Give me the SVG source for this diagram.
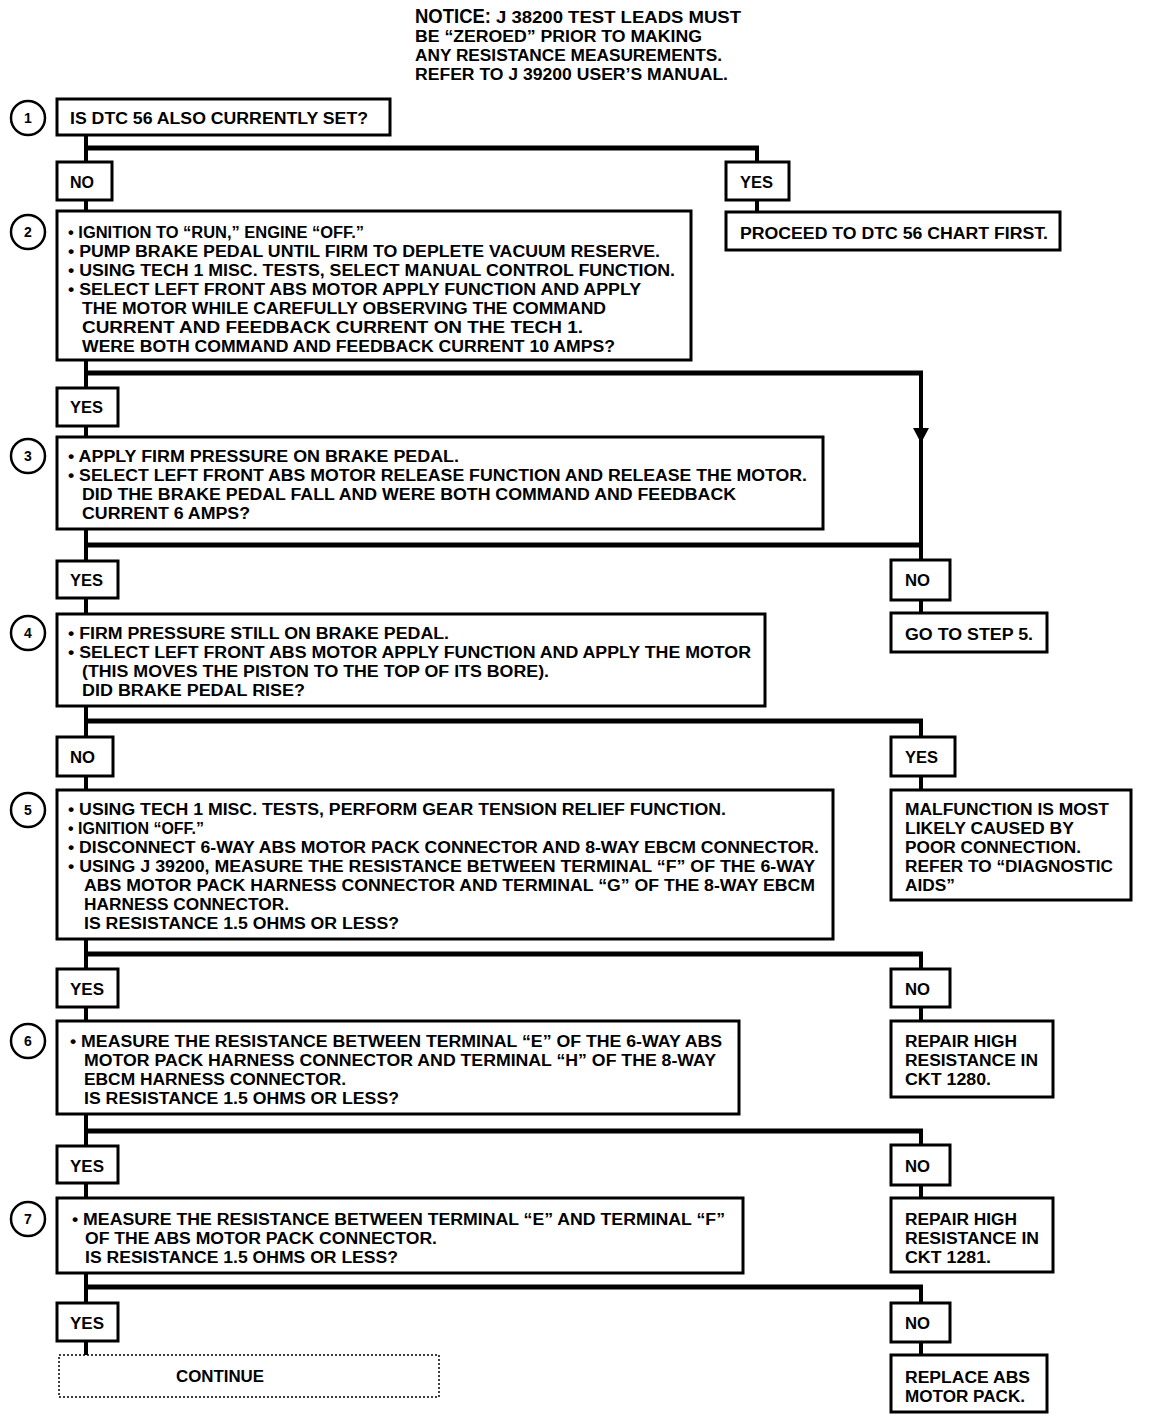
<svg xmlns="http://www.w3.org/2000/svg" width="1152" height="1420" viewBox="0 0 1152 1420">
<defs>
<style>
.t{font-family:"Liberation Sans",Arial,sans-serif;font-weight:bold;font-size:16px;fill:#000}
.n{font-family:"Liberation Sans",Arial,sans-serif;font-weight:bold;font-size:14px;fill:#000;text-anchor:middle}
.b{fill:#fff;stroke:#000;stroke-width:3}
.c{fill:#fff;stroke:#000;stroke-width:2.5}
.l{fill:none;stroke:#000;stroke-width:4}
.h{fill:none;stroke:#000;stroke-width:5}
.d{fill:#fff;stroke:#000;stroke-width:1.5;stroke-dasharray:2 2}
</style>
<marker id="ah" viewBox="0 0 15 16" refX="15" refY="8" markerWidth="15" markerHeight="16" markerUnits="userSpaceOnUse" orient="auto">
<path d="M0,0 L15,8 L0,16 Z" fill="#000"/>
</marker>
</defs>
<rect width="1152" height="1420" fill="#fff"/>

<g id="connectors">
<path class="l" d="M86,135 V162 M86,200 V211 M757,148 V162 M757,200 V212"/>
<path class="h" d="M86,148 H759"/>
<path class="l" d="M86,360 V388 M86,426 V437"/>
<path class="h" d="M86,373 H923"/>
<path class="l" d="M921,373 V561"/>
<path d="M921,410 V443" stroke="none" fill="none" marker-end="url(#ah)"/>
<path class="l" d="M86,529 V561 M86,598 V614 M921,598 V614"/>
<path class="h" d="M86,545 H923"/>
<path class="l" d="M86,706 V737 M86,776 V790 M921,721 V737 M921,776 V790"/>
<path class="h" d="M86,721 H923"/>
<path class="l" d="M86,939 V969 M86,1007 V1021 M921,954 V969 M921,1007 V1021"/>
<path class="h" d="M86,954 H923"/>
<path class="l" d="M86,1114 V1146 M86,1183 V1198 M921,1131 V1146 M921,1183 V1198"/>
<path class="h" d="M86,1131 H923"/>
<path class="l" d="M86,1273 V1303 M86,1341 V1355 M921,1287 V1303 M921,1341 V1355"/>
<path class="h" d="M86,1287 H923"/>
</g>

<g id="notice">
<text x="415" y="23"><tspan class="t" style="font-size:21px" textLength="76" lengthAdjust="spacingAndGlyphs">NOTICE:</tspan></text>
<text class="t" x="496" y="23" textLength="245" lengthAdjust="spacingAndGlyphs">J 38200 TEST LEADS MUST</text>
<text class="t" x="415" y="42" textLength="287" lengthAdjust="spacingAndGlyphs">BE “ZEROED” PRIOR TO MAKING</text>
<text class="t" x="415" y="61" textLength="307" lengthAdjust="spacingAndGlyphs">ANY RESISTANCE MEASUREMENTS.</text>
<text class="t" x="415" y="80" textLength="313" lengthAdjust="spacingAndGlyphs">REFER TO J 39200 USER’S MANUAL.</text>
</g>

<g id="step1">
<circle class="c" cx="28" cy="118" r="17"/><text class="n" x="28" y="123">1</text>
<rect class="b" x="57" y="99" width="333" height="36"/>
<text class="t" x="70" y="124" textLength="298" lengthAdjust="spacingAndGlyphs">IS DTC 56 ALSO CURRENTLY SET?</text>
</g>
<g id="no1"><rect class="b" x="57" y="162" width="55" height="38"/><text class="t" x="70" y="188" textLength="24" lengthAdjust="spacingAndGlyphs">NO</text></g>
<g id="yes1"><rect class="b" x="726" y="162" width="63" height="38"/><text class="t" x="740" y="188" textLength="33" lengthAdjust="spacingAndGlyphs">YES</text></g>
<g id="proceed"><rect class="b" x="726" y="212" width="334" height="38"/><text class="t" x="740" y="239" textLength="308" lengthAdjust="spacingAndGlyphs">PROCEED TO DTC 56 CHART FIRST.</text></g>

<g id="step2">
<circle class="c" cx="28" cy="232" r="17"/><text class="n" x="28" y="237">2</text>
<rect class="b" x="57" y="211" width="634" height="149"/>
<text class="t" x="68" y="238" textLength="296" lengthAdjust="spacingAndGlyphs">• IGNITION TO “RUN,” ENGINE “OFF.”</text>
<text class="t" x="68" y="257" textLength="592" lengthAdjust="spacingAndGlyphs">• PUMP BRAKE PEDAL UNTIL FIRM TO DEPLETE VACUUM RESERVE.</text>
<text class="t" x="68" y="276" textLength="607" lengthAdjust="spacingAndGlyphs">• USING TECH 1 MISC. TESTS, SELECT MANUAL CONTROL FUNCTION.</text>
<text class="t" x="68" y="295" textLength="573" lengthAdjust="spacingAndGlyphs">• SELECT LEFT FRONT ABS MOTOR APPLY FUNCTION AND APPLY</text>
<text class="t" x="82" y="314" textLength="524" lengthAdjust="spacingAndGlyphs">THE MOTOR WHILE CAREFULLY OBSERVING THE COMMAND</text>
<text class="t" x="82" y="333" textLength="501" lengthAdjust="spacingAndGlyphs">CURRENT AND FEEDBACK CURRENT ON THE TECH 1.</text>
<text class="t" x="82" y="352" textLength="533" lengthAdjust="spacingAndGlyphs">WERE BOTH COMMAND AND FEEDBACK CURRENT 10 AMPS?</text>
</g>
<g id="yes2"><rect class="b" x="57" y="388" width="61" height="38"/><text class="t" x="70" y="413" textLength="33" lengthAdjust="spacingAndGlyphs">YES</text></g>

<g id="step3">
<circle class="c" cx="28" cy="456" r="17"/><text class="n" x="28" y="461">3</text>
<rect class="b" x="57" y="437" width="766" height="92"/>
<text class="t" x="68" y="462" textLength="391" lengthAdjust="spacingAndGlyphs">• APPLY FIRM PRESSURE ON BRAKE PEDAL.</text>
<text class="t" x="68" y="481" textLength="739" lengthAdjust="spacingAndGlyphs">• SELECT LEFT FRONT ABS MOTOR RELEASE FUNCTION AND RELEASE THE MOTOR.</text>
<text class="t" x="82" y="500" textLength="654" lengthAdjust="spacingAndGlyphs">DID THE BRAKE PEDAL FALL AND WERE BOTH COMMAND AND FEEDBACK</text>
<text class="t" x="82" y="519" textLength="168" lengthAdjust="spacingAndGlyphs">CURRENT 6 AMPS?</text>
</g>
<g id="yes3"><rect class="b" x="57" y="561" width="61" height="37"/><text class="t" x="70" y="586" textLength="33" lengthAdjust="spacingAndGlyphs">YES</text></g>
<g id="no3"><rect class="b" x="891" y="560" width="59" height="40"/><text class="t" x="905" y="586" textLength="25" lengthAdjust="spacingAndGlyphs">NO</text></g>
<g id="goto5"><rect class="b" x="891" y="613" width="156" height="39"/><text class="t" x="905" y="640" textLength="128" lengthAdjust="spacingAndGlyphs">GO TO STEP 5.</text></g>

<g id="step4">
<circle class="c" cx="28" cy="633" r="17"/><text class="n" x="28" y="638">4</text>
<rect class="b" x="57" y="614" width="708" height="92"/>
<text class="t" x="68" y="639" textLength="381" lengthAdjust="spacingAndGlyphs">• FIRM PRESSURE STILL ON BRAKE PEDAL.</text>
<text class="t" x="68" y="658" textLength="683" lengthAdjust="spacingAndGlyphs">• SELECT LEFT FRONT ABS MOTOR APPLY FUNCTION AND APPLY THE MOTOR</text>
<text class="t" x="82" y="677" textLength="467" lengthAdjust="spacingAndGlyphs">(THIS MOVES THE PISTON TO THE TOP OF ITS BORE).</text>
<text class="t" x="82" y="696" textLength="223" lengthAdjust="spacingAndGlyphs">DID BRAKE PEDAL RISE?</text>
</g>
<g id="no4"><rect class="b" x="57" y="737" width="56" height="39"/><text class="t" x="70" y="763" textLength="25" lengthAdjust="spacingAndGlyphs">NO</text></g>
<g id="yes4"><rect class="b" x="891" y="737" width="64" height="39"/><text class="t" x="905" y="763" textLength="33" lengthAdjust="spacingAndGlyphs">YES</text></g>
<g id="malfunction">
<rect class="b" x="891" y="790" width="240" height="110"/>
<text class="t" x="905" y="815" textLength="204" lengthAdjust="spacingAndGlyphs">MALFUNCTION IS MOST</text>
<text class="t" x="905" y="834" textLength="169" lengthAdjust="spacingAndGlyphs">LIKELY CAUSED BY</text>
<text class="t" x="905" y="853" textLength="176" lengthAdjust="spacingAndGlyphs">POOR CONNECTION.</text>
<text class="t" x="905" y="872" textLength="208" lengthAdjust="spacingAndGlyphs">REFER TO “DIAGNOSTIC</text>
<text class="t" x="905" y="891" textLength="50" lengthAdjust="spacingAndGlyphs">AIDS”</text>
</g>

<g id="step5">
<circle class="c" cx="28" cy="810" r="17"/><text class="n" x="28" y="815">5</text>
<rect class="b" x="57" y="790" width="776" height="149"/>
<text class="t" x="68" y="815" textLength="658" lengthAdjust="spacingAndGlyphs">• USING TECH 1 MISC. TESTS, PERFORM GEAR TENSION RELIEF FUNCTION.</text>
<text class="t" x="68" y="834" textLength="136" lengthAdjust="spacingAndGlyphs">• IGNITION “OFF.”</text>
<text class="t" x="68" y="853" textLength="751" lengthAdjust="spacingAndGlyphs">• DISCONNECT 6-WAY ABS MOTOR PACK CONNECTOR AND 8-WAY EBCM CONNECTOR.</text>
<text class="t" x="68" y="872" textLength="747" lengthAdjust="spacingAndGlyphs">• USING J 39200, MEASURE THE RESISTANCE BETWEEN TERMINAL “F” OF THE 6-WAY</text>
<text class="t" x="84" y="891" textLength="731" lengthAdjust="spacingAndGlyphs">ABS MOTOR PACK HARNESS CONNECTOR AND TERMINAL “G” OF THE 8-WAY EBCM</text>
<text class="t" x="84" y="910" textLength="205" lengthAdjust="spacingAndGlyphs">HARNESS CONNECTOR.</text>
<text class="t" x="84" y="929" textLength="315" lengthAdjust="spacingAndGlyphs">IS RESISTANCE 1.5 OHMS OR LESS?</text>
</g>
<g id="yes5"><rect class="b" x="57" y="969" width="61" height="38"/><text class="t" x="70" y="995" textLength="34" lengthAdjust="spacingAndGlyphs">YES</text></g>
<g id="no5"><rect class="b" x="891" y="969" width="59" height="38"/><text class="t" x="905" y="995" textLength="25" lengthAdjust="spacingAndGlyphs">NO</text></g>
<g id="repair1280">
<rect class="b" x="891" y="1021" width="162" height="76"/>
<text class="t" x="905" y="1047" textLength="112" lengthAdjust="spacingAndGlyphs">REPAIR HIGH</text>
<text class="t" x="905" y="1066" textLength="133" lengthAdjust="spacingAndGlyphs">RESISTANCE IN</text>
<text class="t" x="905" y="1085" textLength="86" lengthAdjust="spacingAndGlyphs">CKT 1280.</text>
</g>

<g id="step6">
<circle class="c" cx="28" cy="1041" r="17"/><text class="n" x="28" y="1046">6</text>
<rect class="b" x="57" y="1021" width="682" height="93"/>
<text class="t" x="70" y="1047" textLength="652" lengthAdjust="spacingAndGlyphs">• MEASURE THE RESISTANCE BETWEEN TERMINAL “E” OF THE 6-WAY ABS</text>
<text class="t" x="84" y="1066" textLength="632" lengthAdjust="spacingAndGlyphs">MOTOR PACK HARNESS CONNECTOR AND TERMINAL “H” OF THE 8-WAY</text>
<text class="t" x="84" y="1085" textLength="262" lengthAdjust="spacingAndGlyphs">EBCM HARNESS CONNECTOR.</text>
<text class="t" x="84" y="1104" textLength="315" lengthAdjust="spacingAndGlyphs">IS RESISTANCE 1.5 OHMS OR LESS?</text>
</g>
<g id="yes6"><rect class="b" x="57" y="1146" width="61" height="37"/><text class="t" x="70" y="1172" textLength="34" lengthAdjust="spacingAndGlyphs">YES</text></g>
<g id="no6"><rect class="b" x="891" y="1145" width="59" height="40"/><text class="t" x="905" y="1172" textLength="25" lengthAdjust="spacingAndGlyphs">NO</text></g>
<g id="repair1281">
<rect class="b" x="891" y="1198" width="162" height="74"/>
<text class="t" x="905" y="1225" textLength="112" lengthAdjust="spacingAndGlyphs">REPAIR HIGH</text>
<text class="t" x="905" y="1244" textLength="134" lengthAdjust="spacingAndGlyphs">RESISTANCE IN</text>
<text class="t" x="905" y="1263" textLength="86" lengthAdjust="spacingAndGlyphs">CKT 1281.</text>
</g>

<g id="step7">
<circle class="c" cx="28" cy="1219" r="17"/><text class="n" x="28" y="1224">7</text>
<rect class="b" x="57" y="1198" width="686" height="75"/>
<text class="t" x="72" y="1225" textLength="653" lengthAdjust="spacingAndGlyphs">• MEASURE THE RESISTANCE BETWEEN TERMINAL “E” AND TERMINAL “F”</text>
<text class="t" x="85" y="1244" textLength="352" lengthAdjust="spacingAndGlyphs">OF THE ABS MOTOR PACK CONNECTOR.</text>
<text class="t" x="85" y="1263" textLength="313" lengthAdjust="spacingAndGlyphs">IS RESISTANCE 1.5 OHMS OR LESS?</text>
</g>
<g id="yes7"><rect class="b" x="57" y="1303" width="61" height="38"/><text class="t" x="70" y="1329" textLength="34" lengthAdjust="spacingAndGlyphs">YES</text></g>
<g id="no7"><rect class="b" x="891" y="1303" width="59" height="39"/><text class="t" x="905" y="1329" textLength="25" lengthAdjust="spacingAndGlyphs">NO</text></g>
<g id="continue"><rect class="d" x="59" y="1355" width="380" height="42"/><text class="t" x="176" y="1382" textLength="88" lengthAdjust="spacingAndGlyphs">CONTINUE</text></g>
<g id="replace">
<rect class="b" x="891" y="1355" width="156" height="57"/>
<text class="t" x="905" y="1383" textLength="125" lengthAdjust="spacingAndGlyphs">REPLACE ABS</text>
<text class="t" x="905" y="1402" textLength="120" lengthAdjust="spacingAndGlyphs">MOTOR PACK.</text>
</g>
</svg>
